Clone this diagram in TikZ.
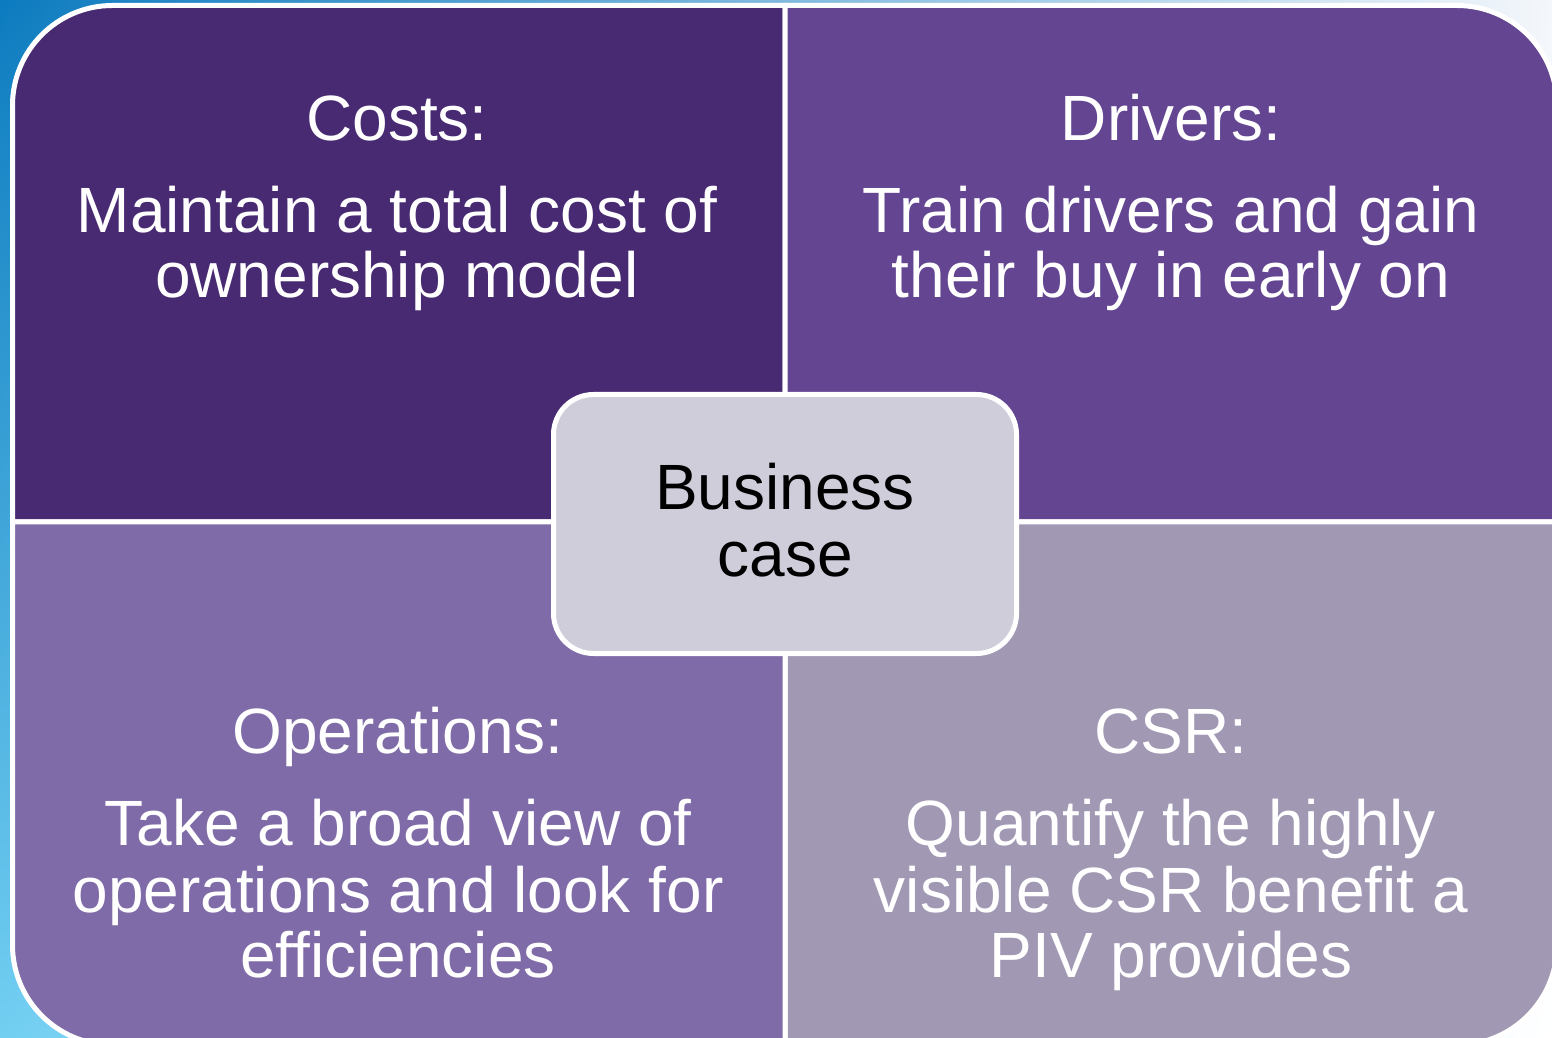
\documentclass[tikz,border=0pt]{standalone}
\usepackage{fontspec}
\setmainfont{Liberation Sans}
\usetikzlibrary{shadings}
\definecolor{qTL}{HTML}{482A72}
\definecolor{qTR}{HTML}{634591}
\definecolor{qBL}{HTML}{7F6BA7}
\definecolor{qBR}{HTML}{A198B4}
\definecolor{qC}{HTML}{D0CDDA}
\definecolor{bgTL}{HTML}{0C7BBF}
\definecolor{bgBL}{HTML}{72CFF2}
\definecolor{bgTR}{HTML}{F4F7FB}
\tikzset{
  quad/.style={draw=white, line width=5pt, line join=miter},
  hd/.style={text=white, font=\fontsize{64}{66}\selectfont, anchor=base, inner sep=0pt},
  bd/.style={text=white, font=\fontsize{64}{66}\selectfont, anchor=base, inner sep=0pt},
  centerbox/.style={draw=white, line width=5pt, fill=qC, rounded corners=40pt, minimum width=463pt, minimum height=259pt, inner sep=0pt},
  ctext/.style={text=black, font=\fontsize{64}{66}\selectfont, anchor=base, inner sep=0pt}
}
\begin{document}
\begin{tikzpicture}[x=1pt,y=1pt]
\useasboundingbox (0,0) rectangle (1552,1037);
\shade[upper left=bgTL, lower left=bgBL, upper right=bgTR, lower right=white] (0,0) rectangle (1552,1037);
% quadrants
\def\L{12.5}\def\R{1557}\def\T{1031.5}\def\B{-8}\def\cx{785}\def\cy{515}\def\r{100}
\filldraw[quad, fill=qTL] (\cx,\cy) -- (\L,\cy) -- (\L,\T-\r) arc[start angle=180,end angle=90,radius=\r] -- (\cx,\T) -- cycle;
\filldraw[quad, fill=qTR] (\cx,\cy) -- (\cx,\T) -- (\R-\r,\T) arc[start angle=90,end angle=0,radius=\r] -- (\R,\cy) -- cycle;
\filldraw[quad, fill=qBR] (\cx,\cy) -- (\R,\cy) -- (\R,\B+\r) arc[start angle=0,end angle=-90,radius=\r] -- (\cx,\B) -- cycle;
\filldraw[quad, fill=qBL] (\cx,\cy) -- (\cx,\B) -- (\L+\r,\B) arc[start angle=270,end angle=180,radius=\r] -- (\L,\cy) -- cycle;
% texts top-left
\node[hd] (costs) at (397,896) {Costs:};
\node[bd] (costs1) at (397,804) {Maintain a total cost of};
\node[bd] (costs2) at (397,739) {ownership model};
% top-right
\node[hd] (drivers) at (1171,896) {Drivers:};
\node[bd] (drivers1) at (1171,804) {Train drivers and gain};
\node[bd] (drivers2) at (1171,739) {their buy in early on};
% bottom-left
\node[hd] (ops) at (398,284) {Operations:};
\node[bd] (ops1) at (398,192) {Take a broad view of};
\node[bd] (ops2) at (398,125) {operations and look for};
\node[bd] (ops3) at (398,60) {efficiencies};
% bottom-right
\node[hd] (csr) at (1171,284) {CSR:};
\node[bd] (csr1) at (1171,192) {Quantify the highly};
\node[bd] (csr2) at (1171,125) {visible CSR benefit a};
\node[bd] (csr3) at (1171,60) {PIV provides};
% center
\node[centerbox] (bc) at (785,513) {};
\node[ctext] (bc1) at (785,527) {Business};
\node[ctext] (bc2) at (785,460) {case};
\end{tikzpicture}
\end{document}
